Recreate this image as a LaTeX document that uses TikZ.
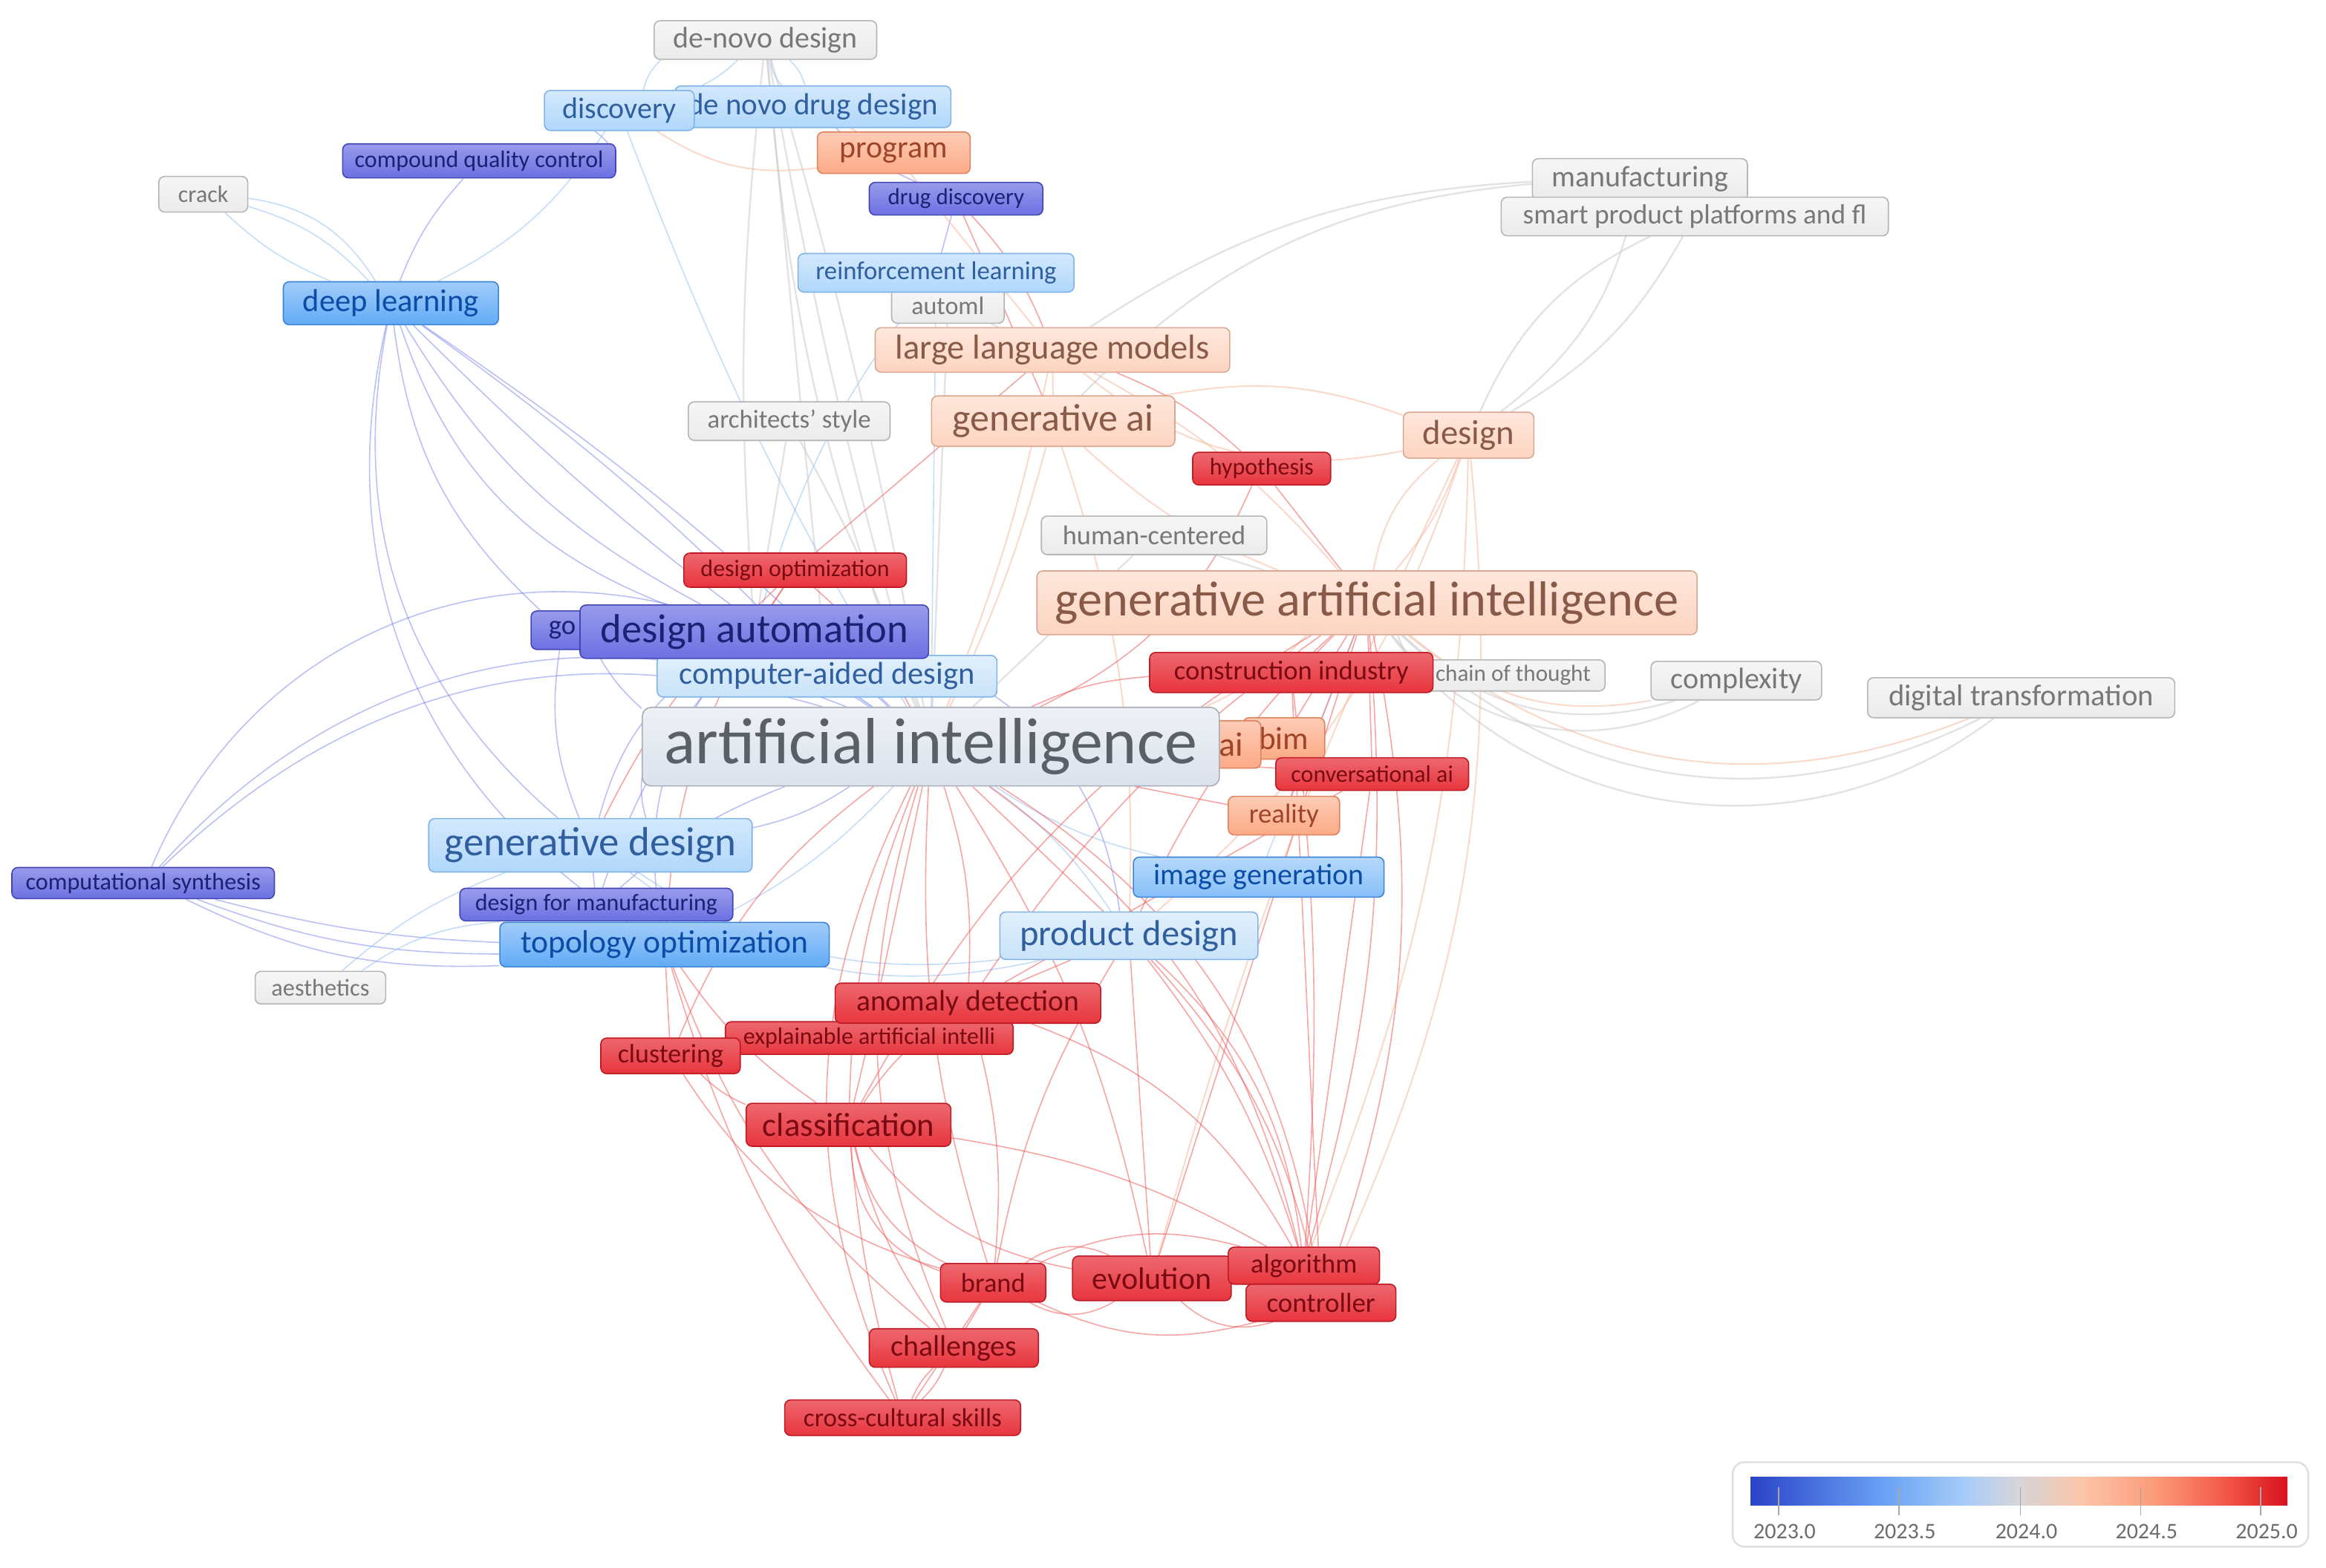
\documentclass[tikz,border=0pt]{standalone}
\usepackage{fontspec}
\setmainfont{Carlito}
\pgfdeclarelayer{back}\pgfdeclarelayer{edges}
\pgfsetlayers{back,edges,main}
\definecolor{gryF}{HTML}{EBEBEB}\definecolor{gryD}{HTML}{B5B5B5}\definecolor{gryT}{HTML}{787878}
\definecolor{aiF}{HTML}{DCE2EC}\definecolor{aiD}{HTML}{A9AEB6}\definecolor{aiT}{HTML}{5B6068}
\definecolor{lbF}{HTML}{B0D7FB}\definecolor{lbD}{HTML}{80B4E8}\definecolor{lbT}{HTML}{2F5F9F}
\definecolor{plbF}{HTML}{C9E3F9}
\definecolor{mbF}{HTML}{62AAF6}\definecolor{mbD}{HTML}{3A84DA}\definecolor{mbT}{HTML}{0A4CA6}
\definecolor{imF}{HTML}{86C0F8}
\definecolor{dbF}{HTML}{6C70E2}\definecolor{dbD}{HTML}{4347B6}\definecolor{dbT}{HTML}{1B2273}
\definecolor{loF}{HTML}{FDD4C0}\definecolor{loD}{HTML}{D8A892}\definecolor{loT}{HTML}{8A5A48}
\definecolor{orF}{HTML}{FCAA86}\definecolor{orD}{HTML}{DE8360}\definecolor{orT}{HTML}{9E4529}
\definecolor{rdF}{HTML}{E8353E}\definecolor{rdD}{HTML}{BE1B25}\definecolor{rdT}{HTML}{7A0A12}
\definecolor{eDBc}{HTML}{6A74EA}\definecolor{eLBc}{HTML}{8FBDF2}\definecolor{eGRc}{HTML}{C8C8C8}
\definecolor{eLOc}{HTML}{F7B9A0}\definecolor{eRDc}{HTML}{F25C5C}
\definecolor{g0}{HTML}{2A44C8}\definecolor{g1}{HTML}{6AA2F5}\definecolor{g2}{HTML}{A8CCF7}
\definecolor{g3}{HTML}{D6D6D6}\definecolor{g4}{HTML}{FCC4A8}\definecolor{g5}{HTML}{FB9C7A}
\definecolor{g6}{HTML}{F35A4A}\definecolor{g7}{HTML}{D7111E}
\newcommand\nd[8]{\node[#2, minimum width=#5pt, minimum height=#6pt, font=\fontsize{#7pt}{#7pt}\selectfont] (#1) at (#3,{1057-#4}) {#8};}
\begin{document}
\begin{tikzpicture}[x=1pt,y=1pt,
  kbase/.style={rounded corners=4pt, line width=0.8pt, inner sep=0pt, align=center},
  kgry/.style={kbase, top color=gryF!45!white, bottom color=gryF, draw=gryD, text=gryT},
  kai/.style={kbase, rounded corners=6pt, top color=aiF!50!white, bottom color=aiF, draw=aiD, text=aiT},
  klb/.style={kbase, top color=lbF!55!white, bottom color=lbF, draw=lbD, text=lbT},
  kplb/.style={kbase, top color=plbF!55!white, bottom color=plbF, draw=lbD, text=lbT},
  kmb/.style={kbase, top color=mbF!60!white, bottom color=mbF, draw=mbD, text=mbT},
  kim/.style={kbase, top color=imF!60!white, bottom color=imF, draw=mbD, text=mbT},
  kdb/.style={kbase, top color=dbF!70!white, bottom color=dbF, draw=dbD, text=dbT},
  klo/.style={kbase, top color=loF!55!white, bottom color=loF, draw=loD, text=loT},
  kor/.style={kbase, top color=orF!60!white, bottom color=orF, draw=orD, text=orT},
  krd/.style={kbase, top color=rdF!75!white, bottom color=rdF, draw=rdD, text=rdT},
  eDB/.style={draw=eDBc, opacity=0.45, line width=0.8pt},
  eLB/.style={draw=eLBc, opacity=0.5, line width=0.8pt},
  eGR/.style={draw=eGRc, opacity=0.5, line width=1.2pt},
  eLO/.style={draw=eLOc, opacity=0.55, line width=1pt},
  eRD/.style={draw=eRDc, opacity=0.55, line width=0.8pt}]
\useasboundingbox (0,0) rectangle (1568,1057);
\begin{pgfonlayer}{back}\fill[white] (0,0) rectangle (1568,1057);\end{pgfonlayer}
% nodes
\nd{denovo}{kgry}{516}{27}{150}{26}{20}{de-novo design}
\nd{dndd}{klb}{548}{72}{186}{28}{20.5}{de novo drug design}
\nd{disc}{klb}{417.5}{74.5}{101}{27}{20}{discovery}
\nd{prog}{kor}{602.5}{103}{103}{28}{21}{program}
\nd{cqc}{kdb}{323}{108.5}{184}{23}{16}{compound quality control}
\nd{drugd}{kdb}{644.5}{134}{117}{22}{15.5}{drug discovery}
\nd{crack}{kgry}{137}{131}{60}{24}{16}{crack}
\nd{manuf}{kgry}{1105.5}{121}{145}{28}{20}{manufacturing}
\nd{smart}{kgry}{1142.5}{146}{261}{26}{18.7}{smart product platforms and fl}
\nd{deepl}{kmb}{263.5}{204.5}{145}{29}{21.3}{deep learning}
\nd{automl}{kgry}{639}{206}{76}{24}{17}{automl}
\nd{reinf}{klb}{631}{184}{186}{26}{17.4}{reinforcement learning}
\nd{llm}{klo}{709.5}{236}{239}{30}{23.3}{large language models}
\nd{arch}{kgry}{532}{284}{136}{26}{17.4}{architects' style}
\nd{genai}{klo}{710}{284}{164}{34}{26}{generative ai}
\nd{design}{klo}{990}{293.5}{88}{31}{23.4}{design}
\nd{hypo}{krd}{850.5}{316}{93}{22}{16}{hypothesis}
\nd{human}{kgry}{778}{361}{152}{26}{18.2}{human-centered}
\nd{dopt}{krd}{536}{384.5}{150}{23}{16}{design optimization}
\nd{gai}{klo}{921.5}{406.5}{445}{43}{33.2}{generative artificial intelligence}
\nd{go}{kdb}{379}{425}{42}{26}{18.4}{go}
\nd{cad}{kplb}{557.5}{456}{229}{28}{21.3}{computer-aided design}
\nd{dauto}{kdb}{508.5}{426}{235}{36}{27.3}{design automation}
\nd{chain}{kgry}{1020}{455.5}{124}{21}{15.6}{chain of thought}
\nd{constr}{krd}{870.5}{453.5}{191}{27}{18.3}{construction industry}
\nd{complex}{kgry}{1170.5}{459}{115}{26}{20}{complexity}
\nd{digital}{kgry}{1362.5}{470.5}{207}{27}{20.3}{digital transformation}
\nd{bim}{kor}{865.5}{498}{55}{28}{21.6}{bim}
\nd{aiS}{kor}{830}{502}{40}{32}{23}{ai}
\nd{AI}{kai}{627.5}{503.5}{389}{53}{44}{artificial intelligence}
\nd{conv}{krd}{925}{522}{130}{22}{16}{conversational ai}
\nd{reality}{kor}{865.5}{550}{75}{26}{18.4}{reality}
\nd{gdes}{klb}{398}{570}{218}{36}{27.5}{generative design}
\nd{compsyn}{kdb}{96.5}{595.5}{177}{21}{16.1}{computational synthesis}
\nd{imgen}{kim}{848.5}{591.5}{169}{27}{20}{image generation}
\nd{dfm}{kdb}{402}{610}{184}{22}{16}{design for manufacturing}
\nd{topo}{kmb}{448}{637}{222}{30}{21.8}{topology optimization}
\nd{prod}{kplb}{761}{631}{174}{32}{24.3}{product design}
\nd{aesth}{kgry}{216}{666}{88}{22}{16.2}{aesthetics}
\nd{xai}{krd}{586}{700}{194}{22}{16}{explainable artificial intelli}
\nd{anom}{krd}{652.5}{676.5}{179}{27}{19.8}{anomaly detection}
\nd{clust}{krd}{452}{712}{94}{24}{18}{clustering}
\nd{classif}{krd}{572}{758.5}{138}{29}{22.4}{classification}
\nd{brand}{krd}{669.5}{865}{71}{26}{18.2}{brand}
\nd{evol}{krd}{776.5}{862}{107}{30}{21}{evolution}
\nd{algo}{krd}{879}{853.5}{102}{25}{18.2}{algorithm}
\nd{ctrl}{krd}{890.5}{878.5}{101}{25}{18.5}{controller}
\nd{chall}{krd}{643}{909}{114}{26}{20}{challenges}
\nd{cross}{krd}{608.5}{956}{159}{24}{17.6}{cross-cultural skills}
% edges
\begin{pgfonlayer}{edges}
% dark blue
\draw[eDB] (deepl) to[bend left=10] (cqc);
\draw[eDB] (deepl) to[bend right=15] (dauto);
\draw[eDB] (deepl) to[bend right=25] (dauto);
\draw[eDB] (deepl) to[bend right=20] (go);
\draw[eDB] (deepl) to[bend right=30] (gdes);
\draw[eDB] (deepl) to[bend right=35] (topo);
\draw[eDB] (deepl) to[bend right=5] (AI);
\draw[eDB] (deepl) to[bend left=5] (AI);
\draw[eDB] (deepl) to[bend left=5] (cad);
\draw[eDB] (cqc) to[bend right=20] (disc);
\draw[eDB] (compsyn) to[bend left=30] (AI);
\draw[eDB] (compsyn) to[bend left=35] (AI);
\draw[eDB] (compsyn) to[bend left=40] (dauto);
\draw[eDB] (compsyn) to[bend right=6] (topo);
\draw[eDB] (compsyn) to[bend right=10] (topo);
\draw[eDB] (compsyn) to[bend right=14] (topo);
\draw[eDB] (dauto) to[bend left=10] (AI);
\draw[eDB] (dauto) to (AI);
\draw[eDB] (dauto) to[bend right=20] (gdes);
\draw[eDB] (dauto) to[bend right=25] (topo);
\draw[eDB] (dauto) to[bend right=10] (dfm);
\draw[eDB] (dauto) to[bend left=30] (prod);
\draw[eDB] (go) to[bend right=15] (gdes);
\draw[eDB] (go) to[bend right=10] (AI);
\draw[eDB] (dfm) to[bend left=10] (AI);
\draw[eDB] (dfm) to (gdes);
\draw[eDB] (gdes) to[bend left=10] (AI);
\draw[eDB] (gdes) to[bend right=10] (AI);
\draw[eDB] (drugd) to (reinf);
\draw[eDB] (drugd) to[bend left=10] (dndd);
% light blue
\draw[eLB] (disc) to[bend left=15] (denovo);
\draw[eLB] (disc) to[bend right=10] (denovo);
\draw[eLB] (dndd) to[bend left=20] (denovo);
\draw[eLB] (dndd) to[bend right=15] (denovo);
\draw[eLB] (disc) to[bend right=5] (AI);
\draw[eLB] (disc) to[bend left=15] (deepl);
\draw[eLB] (crack) to[bend left=15] (deepl);
\draw[eLB] (crack) to[bend left=25] (deepl);
\draw[eLB] (crack) to[bend right=10] (deepl);
\draw[eLB] (reinf) to (AI);
\draw[eLB] (reinf) to[bend right=10] (dauto);
\draw[eLB] (gdes) to[bend right=20] (prod);
\draw[eLB] (gdes) to[bend right=25] (prod);
\draw[eLB] (topo) to[bend right=10] (AI);
\draw[eLB] (aesth) to[bend left=10] (gdes);
\draw[eLB] (aesth) to[bend left=15] (topo);
\draw[eLB] (imgen) to[bend left=10] (AI);
\draw[eLB] (imgen) to (gai);
\draw[eLB] (prod) to[bend right=10] (AI);
\draw[eLB] (cad) to (AI);
% grey
\draw[eGR] (denovo) to[bend left=3] (AI);
\draw[eGR] (denovo) to[bend right=3] (AI);
\draw[eGR] (denovo) to[bend right=8] (AI);
\draw[eGR] (denovo) to[bend right=5] (dauto);
\draw[eGR] (denovo) to (cad);
\draw[eGR] (manuf) to[bend right=20] (genai);
\draw[eGR] (manuf) to[bend right=15] (llm);
\draw[eGR] (smart) to[bend left=15] (design);
\draw[eGR] (smart) to[bend right=20] (design);
\draw[eGR] (manuf) to[bend left=20] (design);
\draw[eGR] (arch) to[bend left=5] (AI);
\draw[eGR] (arch) to (dauto);
\draw[eGR] (human) to (AI);
\draw[eGR] (human) to (gai);
\draw[eGR] (chain) to[bend left=20] (gai);
\draw[eGR] (complex) to[bend left=30] (gai);
\draw[eGR] (complex) to[bend left=40] (gai);
\draw[eGR] (digital) to[bend left=35] (gai);
\draw[eGR] (digital) to[bend left=45] (gai);
\draw[eGR] (automl) to (AI);
\draw[eGR] (automl) to (llm);
% light orange
\draw[eLO] (llm) to[bend left=10] (gai);
\draw[eLO] (llm) to[bend right=25] (design);
\draw[eLO] (llm) to (genai);
\draw[eLO] (llm) to[bend left=5] (AI);
\draw[eLO] (genai) to[bend right=10] (gai);
\draw[eLO] (genai) to[bend left=15] (design);
\draw[eLO] (genai) to[bend left=5] (AI);
\draw[eLO] (genai) to[bend left=10] (prod);
\draw[eLO] (design) to[bend right=20] (gai);
\draw[eLO] (design) to[bend left=10] (gai);
\draw[eLO] (design) to[bend left=15] (prod);
\draw[eLO] (design) to[bend left=10] (algo);
\draw[eLO] (design) to[bend left=15] (ctrl);
\draw[eLO] (design) to[bend right=5] (evol);
\draw[eLO] (gai) to[bend right=30] (digital);
\draw[eLO] (gai) to[bend right=25] (complex);
\draw[eLO] (prog) to[bend left=20] (disc);
\draw[eLO] (prog) to (dndd);
\draw[eLO] (prog) to (llm);
\draw[eLO] (gai) to[bend left=10] (AI);
% red
\draw[eRD] (drugd) to[bend left=10] (llm);
\draw[eRD] (drugd) to (genai);
\draw[eRD] (llm) to[bend left=10] (hypo);
\draw[eRD] (hypo) to (gai);
\draw[eRD] (hypo) to[bend left=20] (AI);
\draw[eRD] (dopt) to[bend left=10] (AI);
\draw[eRD] (dopt) to[bend right=15] (topo);
\draw[eRD] (dopt) to (dauto);
\draw[eRD] (dopt) to[bend right=10] (gdes);
\draw[eRD] (dopt) to (llm);
\draw[eRD] (gai) to (constr);
\draw[eRD] (gai) to (bim);
\draw[eRD] (gai) to (conv);
\draw[eRD] (gai) to (reality);
\draw[eRD] (gai) to[bend right=10] (prod);
\draw[eRD] (gai) to[bend left=10] (algo);
\draw[eRD] (gai) to[bend left=15] (ctrl);
\draw[eRD] (gai) to (evol);
\draw[eRD] (gai) to[bend right=10] (anom);
\draw[eRD] (gai) to[bend right=15] (classif);
\draw[eRD] (constr) to[bend right=10] (AI);
\draw[eRD] (constr) to[bend left=5] (algo);
\draw[eRD] (constr) to (ctrl);
\draw[eRD] (bim) to (AI);
\draw[eRD] (conv) to (AI);
\draw[eRD] (reality) to (AI);
\draw[eRD] (AI) to[bend left=10] (anom);
\draw[eRD] (AI) to[bend right=10] (classif);
\draw[eRD] (AI) to[bend right=15] (clust);
\draw[eRD] (AI) to (xai);
\draw[eRD] (AI) to[bend right=10] (brand);
\draw[eRD] (AI) to[bend left=10] (evol);
\draw[eRD] (AI) to[bend right=20] (chall);
\draw[eRD] (AI) to[bend right=25] (cross);
\draw[eRD] (AI) to[bend left=20] (algo);
\draw[eRD] (AI) to[bend left=25] (ctrl);
\draw[eRD] (AI) to (prod);
\draw[eRD] (anom) to[bend right=10] (classif);
\draw[eRD] (anom) to[bend left=10] (brand);
\draw[eRD] (anom) to (prod);
\draw[eRD] (anom) to[bend left=20] (algo);
\draw[eRD] (anom) to (clust);
\draw[eRD] (classif) to[bend right=25] (brand);
\draw[eRD] (classif) to[bend right=35] (brand);
\draw[eRD] (classif) to[bend right=10] (chall);
\draw[eRD] (classif) to[bend right=5] (cross);
\draw[eRD] (classif) to[bend right=20] (evol);
\draw[eRD] (classif) to[bend left=10] (algo);
\draw[eRD] (classif) to[bend left=10] (clust);
\draw[eRD] (clust) to[bend right=20] (brand);
\draw[eRD] (clust) to (topo);
\draw[eRD] (topo) to[bend right=10] (classif);
\draw[eRD] (topo) to[bend right=15] (chall);
\draw[eRD] (topo) to[bend right=10] (cross);
\draw[eRD] (brand) to[bend left=30] (evol);
\draw[eRD] (brand) to[bend right=30] (evol);
\draw[eRD] (brand) to (chall);
\draw[eRD] (brand) to (cross);
\draw[eRD] (brand) to[bend left=20] (algo);
\draw[eRD] (brand) to[bend right=20] (ctrl);
\draw[eRD] (evol) to (algo);
\draw[eRD] (evol) to[bend right=30] (ctrl);
\draw[eRD] (prod) to[bend right=10] (brand);
\draw[eRD] (prod) to (evol);
\draw[eRD] (prod) to[bend left=10] (algo);
\draw[eRD] (prod) to[bend left=20] (algo);
\draw[eRD] (prod) to[bend left=15] (ctrl);
\draw[eRD] (chall) to[bend left=10] (cross);
\draw[eRD] (chall) to[bend right=10] (cross);
\draw[eRD] (xai) to (classif);
\draw[eRD] (xai) to (clust);
\draw[eRD] (conv) to (algo);
\draw[eRD] (conv) to (anom);
\end{pgfonlayer}
% legend
\draw[rounded corners=8pt, draw=gray!25, line width=1.2pt, fill=white] (1168,{1057-986}) rectangle (1556,{1057-1043});
\shade[left color=g0, right color=g1] (1180,42) rectangle (1271,61);
\shade[left color=g1, right color=g2] (1270.5,42) rectangle (1325.3,61);
\shade[left color=g2, right color=g3] (1324.8,42) rectangle (1361.5,61);
\shade[left color=g3, right color=g4] (1361,42) rectangle (1404.9,61);
\shade[left color=g4, right color=g5] (1404.4,42) rectangle (1452,61);
\shade[left color=g5, right color=g6] (1451.5,42) rectangle (1499.1,61);
\shade[left color=g6, right color=g7] (1498.6,42) rectangle (1542,61);
\foreach \tx/\lab [count=\i] in {1199/2023.0,1280/2023.5,1362/2024.0,1443/2024.5,1524/2025.0}{
  \draw[gray!70, line width=0.8pt] (\tx,54) -- (\tx,35);
  \node[text=gray!85!black, font=\fontsize{15pt}{15pt}\selectfont, inner sep=0pt] (tick\i) at ({\tx+4},24) {\lab};
}
\end{tikzpicture}
\end{document}
